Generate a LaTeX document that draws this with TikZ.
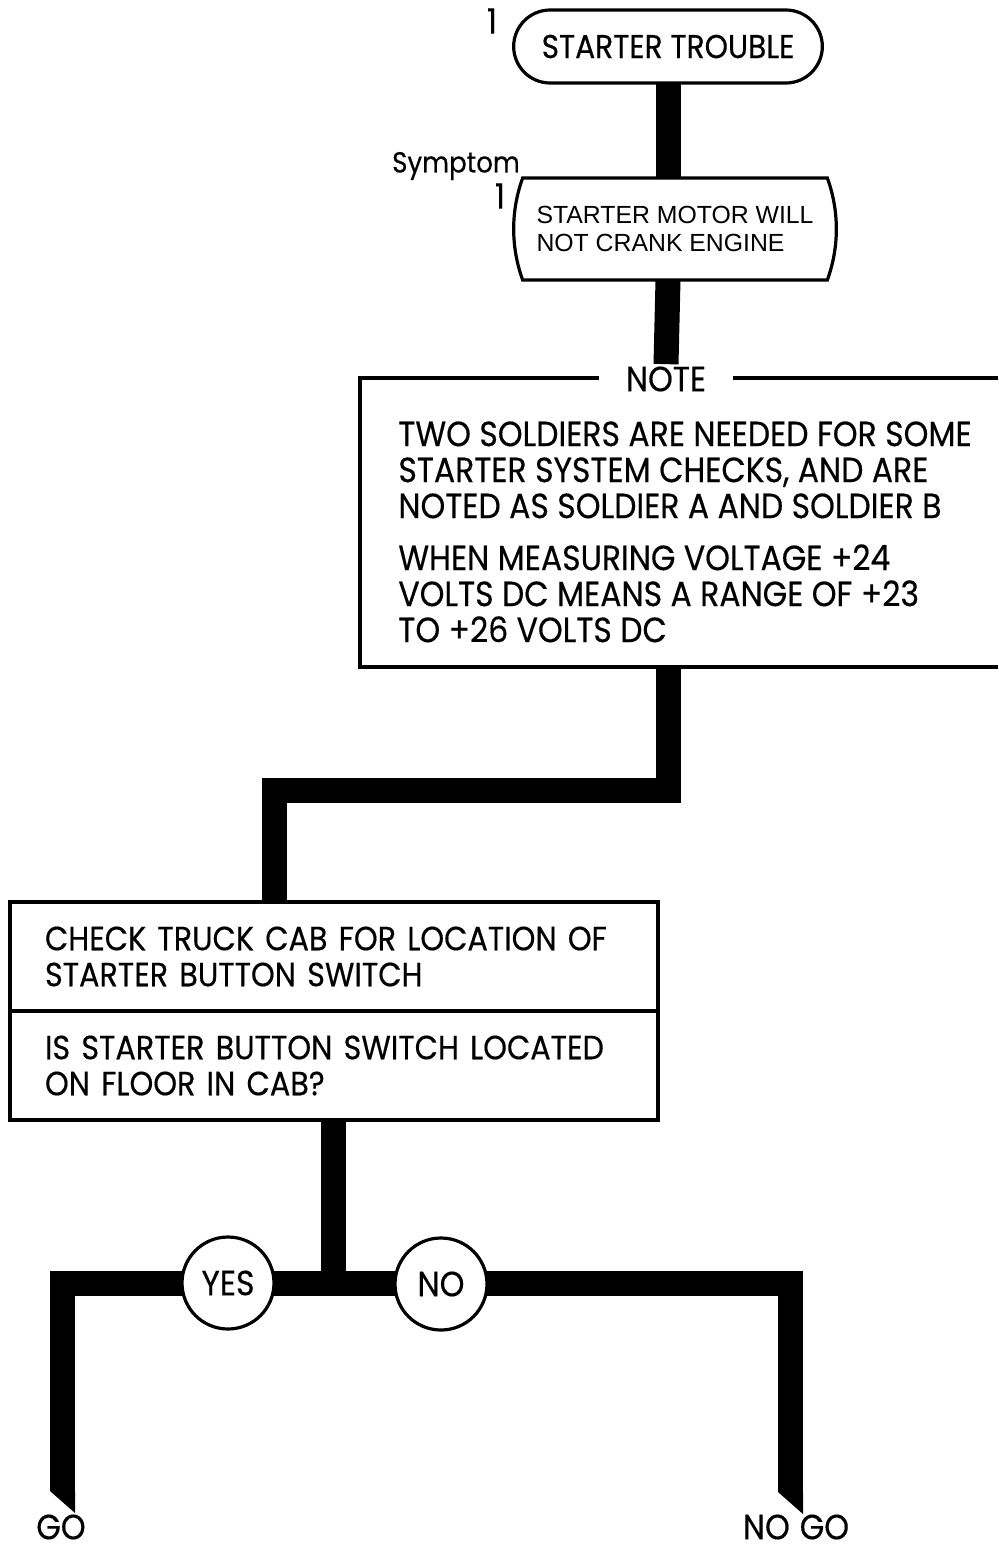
\documentclass[tikz,border=0pt]{standalone}
\usepackage{fontspec}
\setmainfont{Poppins}[FakeStretch=0.9, FakeBold=0.4]
\newfontfamily\helvfont{Liberation Sans}
\usetikzlibrary{calc,
                positioning,
                shapes.misc}

\tikzset{
  flow/.style={line width=12.5pt, line join=miter},
  boxline/.style={line width=1.6pt},
  terminal/.style={rounded rectangle, draw, boxline, outer sep=0pt,
                   minimum width=161pt, minimum height=36.5pt},
  symptombox/.style={rounded rectangle, rounded rectangle arc length=40, draw,
                   boxline, outer sep=0pt, minimum width=168pt,
                   minimum height=51pt, align=left,
                   font=\helvfont\fontsize{12.4}{14}\selectfont},
  notebox/.style={anchor=north west, outer sep=0pt,
                   minimum width=319pt, minimum height=144.5pt},
  stepbox/.style={draw, boxline, anchor=north west, outer sep=0pt,
                   text width=289pt, inner xsep=17.5pt, minimum height=54.5pt,
                   align=left, font=\fontsize{16.8}{18}\selectfont},
  choice/.style={circle, draw, fill=white, boxline,
                   minimum size=46pt, inner sep=0pt}
}

\begin{document}
\begin{tikzpicture}[x=0.5pt,y=-0.5pt,
    every node/.style={font=\fontsize{17.5}{18}\selectfont}]
\useasboundingbox (0,0) rectangle (998,1547);

% boxes
\node[terminal, font=\fontsize{16.5}{18}\selectfont] (start) at (668,46.5) {STARTER TROUBLE};
\node[symptombox] (symptom) at (675,229) {STARTER MOTOR WILL\\NOT CRANK ENGINE};
\node[notebox] (note) at (360,378) {};
\draw[boxline] (note.north east) -| (note.south west) -- (note.south east);
\node[fill=white, inner xsep=13.5pt, inner ysep=1pt] (notetitle) at (666,379) {NOTE};
\node[anchor=north west, align=left, inner sep=0pt] (notetext) at (398,421)
  {TWO SOLDIERS ARE NEEDED FOR SOME\\
   STARTER SYSTEM CHECKS, AND ARE\\
   NOTED AS SOLDIER A AND SOLDIER B\\[8pt]
   WHEN MEASURING VOLTAGE +24\\
   VOLTS DC MEANS A RANGE OF +23\\
   TO +26 VOLTS DC};
\node[stepbox] (check) at (10,902) {CHECK TRUCK CAB FOR LOCATION OF\\STARTER BUTTON SWITCH};
\node[stepbox, below=0pt of check] (ask) {IS STARTER BUTTON SWITCH LOCATED\\ON FLOOR IN CAB?};

% side labels
\node[inner sep=0pt] (startnum) at (492,21) {1};
\node[inner sep=0pt, font=\fontsize{14.5}{16}\selectfont] (symptomlbl) at (456,166) {Symptom};
\node[inner sep=0pt] (symptomnum) at (500,196) {1};

% connectors
\coordinate (jog) at (274,790);
\coordinate (fork) at (333,1283);
\coordinate (goend) at (62.5,1491);
\coordinate (nogoend) at (790.5,1492);
\draw[flow] (start.south) -- (start.south |- symptom.north);
\draw[flow] (start.south |- symptom.south) -- (notetitle.north);
\draw[flow] (start.south |- note.south) |- (jog) -- (jog |- check.north);
\draw[flow] (ask.south -| fork) -- (fork);
\draw[flow] (goend) |- (fork) -| (nogoend);
\foreach \e in {goend,nogoend}
  \fill ($(\e)+(-12.5,0)$) -- ($(\e)+(12.5,0)$) -- ($(\e)+(12.5,22)$) -- cycle;

% answers
\node[choice] (yes) at (228,1283) {YES};
\node[choice] (no) at (441,1284) {NO};
\node[inner sep=0pt] (go) at (61,1527) {GO};
\node[inner sep=0pt] (nogo) at (796,1527) {NO\hspace{5pt}GO};
\end{tikzpicture}
\end{document}
